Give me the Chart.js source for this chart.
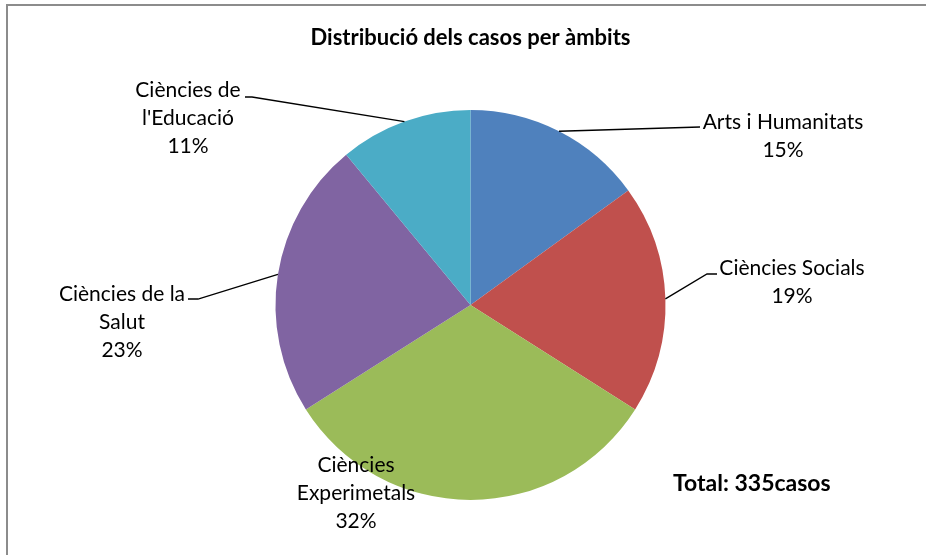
<!DOCTYPE html>
<html>
<head>
<meta charset="utf-8">
<script src="https://cdn.jsdelivr.net/npm/chart.js@4.4.1/dist/chart.umd.min.js"></script>
<style>
  html, body { margin:0; padding:0; background:#fff; }
  canvas { display:block; }
</style>
</head>
<body>
<canvas id="pieChart" width="926" height="555"></canvas>
<script>
const FONT = 'Lato, "Liberation Sans", sans-serif';

// data
const categories = ['Arts i Humanitats', 'Ciències Socials', 'Ciències Experimetals', 'Ciències de la Salut', "Ciències de l'Educació"];
const labelLines = [['Arts i Humanitats'], ['Ciències Socials'], ['Ciències', 'Experimetals'], ['Ciències de la', 'Salut'], ['Ciències de', "l'Educació"]];
const percents = [15, 19, 32, 23, 11];
const sliceColors = ['#4F81BD', '#C0504D', '#9BBB59', '#8064A2', '#4BACC6'];
const chartTitle = 'Distribució dels casos per àmbits';
const totalText = 'Total: 335casos';

// label placement: text centre x, first line centre y, leader elbow + end (null = no leader)
const labelLayout = [
  { x:783, y:122, elbow:[700,127], end:[700,127] },
  { x:792, y:268, elbow:[707,274], end:[717,274] },
  { x:356, y:465, elbow:null },
  { x:122, y:294, elbow:[198,299], end:[188,299] },
  { x:188, y:90,  elbow:[252,97],  end:[245,97] }
];
const LINE_H = 28;

const framePlugin = {
  id:'frame',
  beforeDraw(chart){
    const ctx = chart.ctx;
    ctx.save();
    ctx.strokeStyle = '#8c8c8c';
    ctx.lineWidth = 2;
    ctx.beginPath();
    ctx.moveTo(7, 560);
    ctx.lineTo(7, 5);
    ctx.lineTo(930, 5);
    ctx.stroke();
    ctx.restore();
  }
};

const labelPlugin = {
  id:'pieLabels',
  afterDraw(chart){
    const ctx = chart.ctx;
    const arcs = chart.getDatasetMeta(0).data;
    ctx.save();
    ctx.strokeStyle = '#000';
    ctx.lineWidth = 1.3;
    arcs.forEach((arc, i)=>{
      const L = labelLayout[i];
      if(L.elbow){
        const mid = (arc.startAngle + arc.endAngle)/2;
        const ax = arc.x + Math.cos(mid)*arc.outerRadius;
        const ay = arc.y + Math.sin(mid)*arc.outerRadius;
        ctx.beginPath();
        ctx.moveTo(ax, ay);
        ctx.lineTo(L.elbow[0], L.elbow[1]);
        ctx.lineTo(L.end[0], L.end[1]);
        ctx.stroke();
      }
    });
    ctx.fillStyle = '#000';
    ctx.font = '21px ' + FONT;
    ctx.textAlign = 'center';
    ctx.textBaseline = 'middle';
    arcs.forEach((arc, i)=>{
      const L = labelLayout[i];
      const lines = labelLines[i].concat([percents[i] + '%']);
      lines.forEach((t, k)=> ctx.fillText(t, L.x, L.y + k*LINE_H));
    });
    ctx.font = 'bold 23px ' + FONT;
    ctx.textAlign = 'left';
    ctx.fillText(totalText, 673, 484);
    ctx.restore();
  }
};

new Chart(document.getElementById('pieChart'), {
  type:'pie',
  data:{
    labels: categories,
    datasets:[{ data: percents, backgroundColor: sliceColors, borderWidth:0 }]
  },
  options:{
    responsive:false,
    animation:false,
    devicePixelRatio:1,
    layout:{ padding:{ left:275, right:260, top:20, bottom:55 } },
    plugins:{
      legend:{ display:false },
      tooltip:{ enabled:false },
      title:{
        display:true,
        text: chartTitle,
        color:'#000',
        font:{ family: FONT, size:22, weight:'bold', lineHeight:1.2 },
        padding:{ top:5, bottom:58.6 }
      }
    }
  },
  plugins:[framePlugin, labelPlugin]
});
</script>
</body>
</html>
